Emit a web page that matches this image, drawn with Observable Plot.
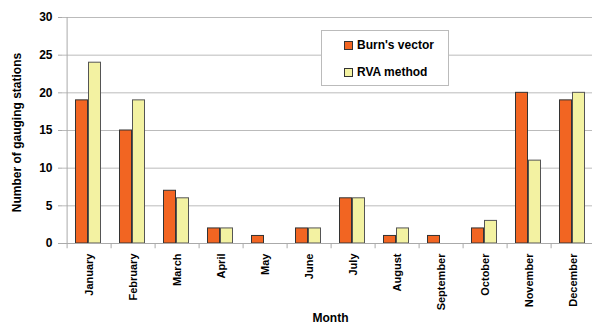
<!DOCTYPE html>
<html><head><meta charset="utf-8">
<script src="https://cdn.jsdelivr.net/npm/d3@7"></script>
<script src="https://cdn.jsdelivr.net/npm/@observablehq/plot@0.6"></script>
<style>
body{margin:0;background:#fff;}
#chart{position:relative;width:592px;height:325px;}
</style>
</head><body><div id="chart"></div>
<script>
const months = ["January","February","March","April","May","June","July","August","September","October","November","December"];
const burns = [19,15,7,2,1,2,6,1,1,2,20,19];
const rva = [24,19,6,2,0,2,6,2,0,3,11,20];
const yTicks = [0,5,10,15,20,25,30];
const seriesNames = ["Burn's vector","RVA method"];
const colors = ["#F26522","#F3F2A2"];
const FONT = "'Liberation Sans', Arial, sans-serif";

const dataB = months.map((m,i)=>({month:m, value:burns[i]}));
const dataR = months.map((m,i)=>({month:m, value:rva[i]}));

const plot = Plot.plot({
  width: 592, height: 325,
  marginLeft: 62, marginRight: 0, marginTop: 17, marginBottom: 82,
  style: {fontFamily: FONT, fontWeight: "bold", fontSize: "12px", color: "#000"},
  x: {domain: months, range: [62, 600], padding: 0, label: null, axis: null},
  y: {domain: [0, 30], ticks: yTicks, label: null, axis: null},
  marks: [
    Plot.gridY(yTicks.filter(d=>d>0), {stroke: "#bbb", strokeOpacity: 1, strokeWidth: 1}),
    Plot.barY(dataB.filter(d=>d.value>0), {x: "month", y: "value", fill: colors[0], stroke: "#333", strokeWidth: 1, insetLeft: 8.5, insetRight: 23.5}),
    Plot.barY(dataR.filter(d=>d.value>0), {x: "month", y: "value", fill: colors[1], stroke: "#555", strokeWidth: 1, insetLeft: 21.5, insetRight: 10.5}),
    Plot.ruleY([0], {stroke: "#aaa", strokeWidth: 1}),
    Plot.ruleX([months[0]], {dx: -22.4, stroke: "#aaa"}),
    Plot.ruleX(months, {x: d => d, dx: -22.4, y1: () => 0, y2: () => -0.7, stroke: "#aaa"}),
    Plot.axisY({ticks: yTicks, tickSize: 4, tickPadding: 6, stroke: "#aaa", fontSize: 12, fontWeight: "bold", fill: "#000", label: null}),
    Plot.axisX({tickSize: 0, tickRotate: -90, tickPadding: 10, fontSize: 11, fontWeight: "bold", fill: "#000", label: null}),
    Plot.text(["Number of gauging stations"], {frameAnchor: "left", dx: -45, dy: 2, rotate: -90, textAnchor: "middle", fontSize: 12, fontWeight: "bold", fill: "#000"}),
    Plot.text(["Month"], {frameAnchor: "bottom", dx: 3, dy: 78, fontSize: 12, fontWeight: "bold", fill: "#000"})
  ]
});
document.getElementById("chart").appendChild(plot);

const lg = document.createElement("div");
lg.style.cssText = `position:absolute;left:321px;top:30px;width:126px;height:54px;border:1px solid #bbb;background:#fff;font:bold 12px ${FONT};color:#000;`;
seriesNames.forEach((n,i)=>{
  const row = document.createElement("div");
  row.style.cssText = `position:absolute;left:22px;top:${i===0?7:34}px;display:flex;align-items:center;white-space:nowrap;`;
  const sw = document.createElement("span");
  sw.style.cssText = `display:inline-block;width:7px;height:7px;background:${colors[i]};border:1px solid #333;margin-right:4px;`;
  const t = document.createElement("span"); t.textContent = n;
  row.appendChild(sw); row.appendChild(t); lg.appendChild(row);
});
document.getElementById("chart").appendChild(lg);
</script>
</body></html>
